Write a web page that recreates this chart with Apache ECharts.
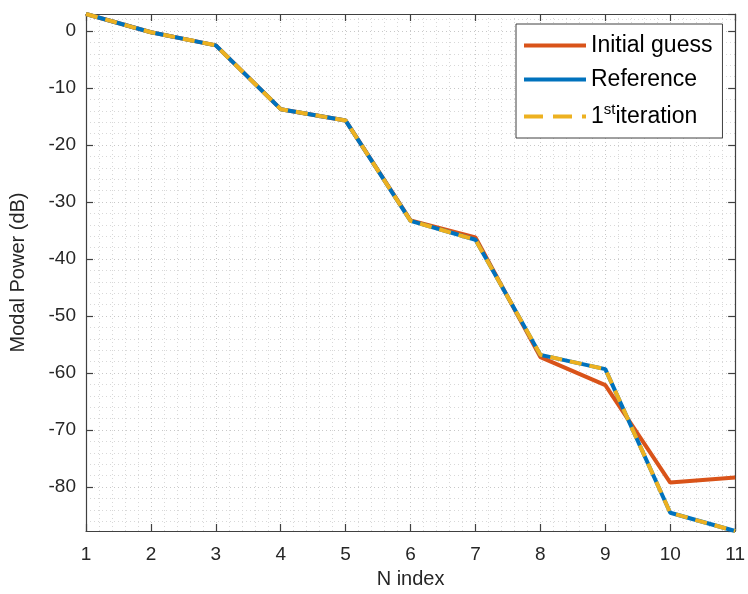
<!DOCTYPE html>
<html>
<head>
<meta charset="utf-8">
<script src="https://cdn.jsdelivr.net/npm/echarts@6/dist/echarts.min.js"></script>
<style>html,body{margin:0;padding:0;background:#fff}#c{width:748px;height:594px}</style>
</head>
<body>
<div id="c"></div>
<script>
const nIndex = [1, 2, 3, 4, 5, 6, 7, 8, 9, 10, 11];
const initialGuess = [3, -0.2, -2.5, -13.7, -15.7, -33.2, -36.2, -57.2, -62.1, -79.2, -78.3];
const referenceVals = [3, -0.2, -2.5, -13.7, -15.7, -33.3, -36.6, -56.8, -59.3, -84.5, -87.7];
const iteration1 = [3, -0.2, -2.5, -13.7, -15.7, -33.3, -36.6, -56.8, -59.3, -84.5, -87.7];
const yTickLabels = [0, -10, -20, -30, -40, -50, -60, -70, -80];

const FONT = 'Liberation Sans, Arial, Helvetica, sans-serif';
const AX = '#404040';
const pair = a => nIndex.map((x, i) => [x, a[i]]);

const chart = echarts.init(document.getElementById('c'), null, {renderer: 'canvas'});
chart.setOption({
  animation: false,
  backgroundColor: '#fff',
  grid: {left: 84, right: 8, top: 14, bottom: 62, containLabel: false},
  legend: {
    orient: 'vertical',
    left: 516, top: 24,
    padding: [10, 10, 10, 6],
    itemGap: 11,
    itemWidth: 62,
    itemHeight: 22,
    backgroundColor: '#fff',
    borderColor: AX,
    borderWidth: 1,
    borderRadius: 0,
    itemStyle: {opacity: 0, borderWidth: 0},
    lineStyle: {width: 4},
    data: [
      {name: 'Initial guess'},
      {name: 'Reference'},
      {name: '1st iteration', lineStyle: {width: 4, type: [19, 10]}}
    ],
    formatter: function (name) {
      if (name === '1st iteration') return '{n|1}{sup|st}{n|iteration}';
      return '{n|' + name + '}';
    },
    textStyle: {
      fontFamily: FONT, color: '#000', fontSize: 23,
      rich: {
        n: {fontFamily: FONT, fontSize: 23, color: '#000'},
        sup: {fontFamily: FONT, fontSize: 15, color: '#000', verticalAlign: 'top', padding: [0, 0, 14, 0]}
      }
    }
  },
  xAxis: [{
    type: 'value', min: 1, max: 11, interval: 1,
    name: 'N index', nameLocation: 'middle', nameGap: 38,
    nameTextStyle: {fontFamily: FONT, fontSize: 20, color: '#262626'},
    axisLine: {show: true, onZero: false, lineStyle: {color: AX, width: 1.2}},
    axisTick: {show: true, inside: true, length: 7, lineStyle: {color: AX, width: 1.2}},
    axisLabel: {fontFamily: FONT, fontSize: 19, color: '#262626', margin: 14},
    splitLine: {show: true, lineStyle: {color: '#c8c8c8', type: [1, 3], width: 1}},
    minorTick: {show: false, splitNumber: 5},
    minorSplitLine: {show: true, lineStyle: {color: '#d8d8d8', type: [1, 3], width: 1}}
  }, {
    type: 'value', min: 1, max: 11, interval: 1, position: 'top',
    axisLine: {show: true, onZero: false, lineStyle: {color: AX, width: 1.2}},
    axisTick: {show: true, inside: true, length: 7, lineStyle: {color: AX, width: 1.2}},
    axisLabel: {show: false}, splitLine: {show: false}
  }],
  yAxis: [{
    type: 'value', min: -87.7, max: 3, splitNumber: 9, position: 'left',
    name: 'Modal Power (dB)', nameLocation: 'middle', nameGap: 58,
    nameTextStyle: {fontFamily: FONT, fontSize: 20, color: '#262626'},
    axisLine: {show: true, onZero: false, lineStyle: {color: AX, width: 1.2}},
    axisTick: {show: true, inside: true, length: 7, lineStyle: {color: AX, width: 1.2}},
    axisLabel: {
      fontFamily: FONT, fontSize: 19, color: '#262626', margin: 10,
      showMinLabel: false, showMaxLabel: false,
      formatter: v => (yTickLabels.indexOf(Math.round(v)) >= 0 && Math.abs(v - Math.round(v)) < 1e-6) ? String(Math.round(v)) : ''
    },
    splitLine: {show: true, lineStyle: {color: '#c8c8c8', type: [1, 3], width: 1}},
    minorTick: {show: false, splitNumber: 5},
    minorSplitLine: {show: true, lineStyle: {color: '#d8d8d8', type: [1, 3], width: 1}}
  }, {
    type: 'value', min: -87.7, max: 3, splitNumber: 9, position: 'right',
    axisLine: {show: true, onZero: false, lineStyle: {color: AX, width: 1.2}},
    axisTick: {show: true, inside: true, length: 7, lineStyle: {color: AX, width: 1.2}},
    axisLabel: {show: false}, splitLine: {show: false}
  }],
  series: [{
    name: 'Initial guess', type: 'line', data: pair(initialGuess),
    symbol: 'none', color: '#D95319',
    lineStyle: {width: 4, color: '#D95319'}, z: 2
  }, {
    name: 'Reference', type: 'line', data: pair(referenceVals),
    symbol: 'none', color: '#0072BD',
    lineStyle: {width: 4, color: '#0072BD'}, z: 3
  }, {
    name: '1st iteration', type: 'line', data: pair(iteration1),
    symbol: 'none', color: '#EDB120',
    lineStyle: {width: 4, color: '#EDB120', type: [12, 8]}, z: 4
  }]
});
</script>
</body>
</html>
